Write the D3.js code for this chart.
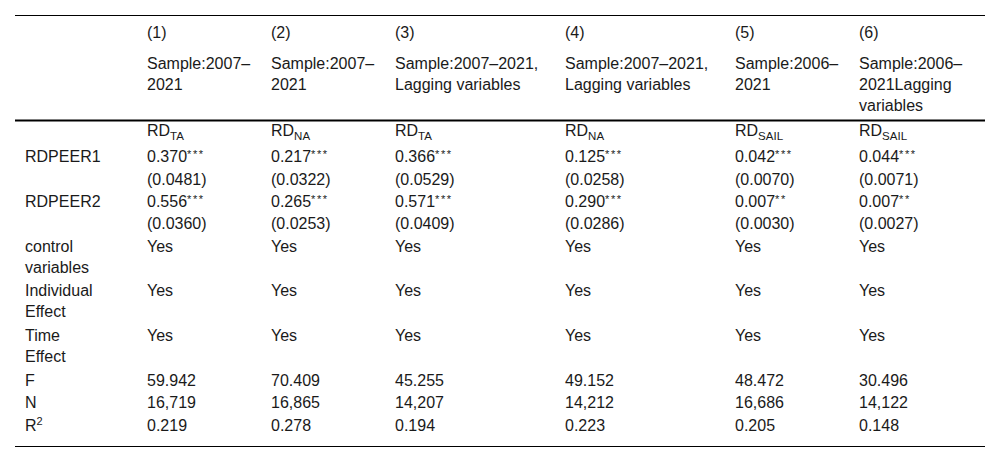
<!DOCTYPE html>
<html>
<head>
<meta charset="utf-8">
<script src="https://cdn.jsdelivr.net/npm/d3@7"></script>
<style>
  html, body { margin: 0; padding: 0; background: #fff; }
  svg text { font-family: "Liberation Sans", Arial, Helvetica, sans-serif; fill: #1a1a1a; }
</style>
</head>
<body>
<svg id="chart" width="1000" height="459"></svg>
<script>
// ---- data ----
const columnNumbers = ["(1)", "(2)", "(3)", "(4)", "(5)", "(6)"];
const sampleLabels = [
  ["Sample:2007–", "2021"],
  ["Sample:2007–", "2021"],
  ["Sample:2007–2021,", "Lagging variables"],
  ["Sample:2007–2021,", "Lagging variables"],
  ["Sample:2006–", "2021"],
  ["Sample:2006–", "2021Lagging", "variables"]
];
const dependentVars = ["TA", "NA", "TA", "NA", "SAIL", "SAIL"];
const peer1Coef = ["0.370", "0.217", "0.366", "0.125", "0.042", "0.044"];
const peer1Stars = ["***", "***", "***", "***", "***", "***"];
const peer1SE = ["(0.0481)", "(0.0322)", "(0.0529)", "(0.0258)", "(0.0070)", "(0.0071)"];
const peer2Coef = ["0.556", "0.265", "0.571", "0.290", "0.007", "0.007"];
const peer2Stars = ["***", "***", "***", "***", "**", "**"];
const peer2SE = ["(0.0360)", "(0.0253)", "(0.0409)", "(0.0286)", "(0.0030)", "(0.0027)"];
const controlVars = ["Yes", "Yes", "Yes", "Yes", "Yes", "Yes"];
const individualEffect = ["Yes", "Yes", "Yes", "Yes", "Yes", "Yes"];
const timeEffect = ["Yes", "Yes", "Yes", "Yes", "Yes", "Yes"];
const fStats = ["59.942", "70.409", "45.255", "49.152", "48.472", "30.496"];
const nObs = ["16,719", "16,865", "14,207", "14,212", "16,686", "14,122"];
const rSquared = ["0.219", "0.278", "0.194", "0.223", "0.205", "0.148"];

// ---- layout ----
const svg = d3.select("#chart");
const fontSize = 16;
const lineH = 21;
const headLineH = 20.8;
const left = 15, right = 985;

// column x positions (0 = row label column)
const colX = d3.scaleOrdinal()
  .domain(d3.range(7))
  .range([25, 147, 271, 395, 565, 735, 859]);

const bodyRows = [
  { label: [""], cells: dependentVars.map(v => ({ type: "sub", base: "RD", sub: v })), h: 26 },
  { label: ["RDPEER1"], cells: peer1Coef.map((v, i) => ({ type: "stars", base: v, sup: peer1Stars[i] })), h: 22.5 },
  { label: [""], cells: peer1SE.map(v => ({ type: "plain", lines: [v] })), h: 22 },
  { label: ["RDPEER2"], cells: peer2Coef.map((v, i) => ({ type: "stars", base: v, sup: peer2Stars[i] })), h: 22.5 },
  { label: [""], cells: peer2SE.map(v => ({ type: "plain", lines: [v] })), h: 22.5 },
  { label: ["control", "variables"], cells: controlVars.map(v => ({ type: "plain", lines: [v] })), h: 44.8 },
  { label: ["Individual", "Effect"], cells: individualEffect.map(v => ({ type: "plain", lines: [v] })), h: 44.8 },
  { label: ["Time", "Effect"], cells: timeEffect.map(v => ({ type: "plain", lines: [v] })), h: 44.8 },
  { label: ["F"], cells: fStats.map(v => ({ type: "plain", lines: [v] })), h: 22.3 },
  { label: ["N"], cells: nObs.map(v => ({ type: "plain", lines: [v] })), h: 22.3 },
  { label: ["R2sup"], cells: rSquared.map(v => ({ type: "plain", lines: [v] })), h: 22.3 }
];

const topLineY = 15;
const numRowBaseline = 38;
const sampleBaseline = 69;
const thickLineY = 120.5;
const firstBodyBaseline = 136;

// rules
svg.append("line").attr("x1", left).attr("x2", right).attr("y1", topLineY + 0.5).attr("y2", topLineY + 0.5)
  .attr("stroke", "#000").attr("stroke-width", 1);
svg.append("line").attr("x1", left).attr("x2", right).attr("y1", thickLineY).attr("y2", thickLineY)
  .attr("stroke", "#000").attr("stroke-width", 2);

const g = svg.append("g").attr("font-size", fontSize);

// header: column numbers
g.selectAll("text.num").data(columnNumbers).join("text")
  .attr("class", "num")
  .attr("x", (d, i) => colX(i + 1))
  .attr("y", numRowBaseline)
  .text(d => d);

// header: sample descriptions
sampleLabels.forEach((lines, i) => {
  g.append("g").selectAll("text").data(lines).join("text")
    .attr("x", colX(i + 1))
    .attr("y", (d, j) => sampleBaseline + j * headLineH)
    .text(d => d);
});

// body
let yCursor = firstBodyBaseline;
bodyRows.forEach(row => {
  const y0 = yCursor;
  row.label.forEach((l, j) => {
    if (l === "") return;
    const t = g.append("text").attr("x", colX(0)).attr("y", y0 + j * lineH);
    if (l === "R2sup") {
      t.append("tspan").text("R");
      t.append("tspan").attr("font-size", 11).attr("dy", -6).text("2");
    } else {
      t.text(l);
    }
  });
  row.cells.forEach((c, i) => {
    const x = colX(i + 1);
    if (c.type === "plain") {
      c.lines.forEach((l, j) => {
        g.append("text").attr("x", x).attr("y", y0 + j * lineH).text(l);
      });
    } else if (c.type === "sub") {
      const t = g.append("text").attr("x", x).attr("y", y0);
      t.append("tspan").text(c.base);
      t.append("tspan").attr("font-size", 11.5).attr("dy", 4).text(c.sub);
    } else if (c.type === "stars") {
      const t = g.append("text").attr("x", x).attr("y", y0);
      t.append("tspan").text(c.base);
      t.append("tspan").attr("font-size", 11).attr("letter-spacing", 1.6).attr("dy", -4).text(c.sup);
    }
  });
  yCursor += row.h;
});

// bottom rule
const bottomY = yCursor - 22.3 + 15.5;
svg.append("line").attr("x1", left).attr("x2", right).attr("y1", bottomY + 0.5).attr("y2", bottomY + 0.5)
  .attr("stroke", "#000").attr("stroke-width", 1);
</script>
</body>
</html>
